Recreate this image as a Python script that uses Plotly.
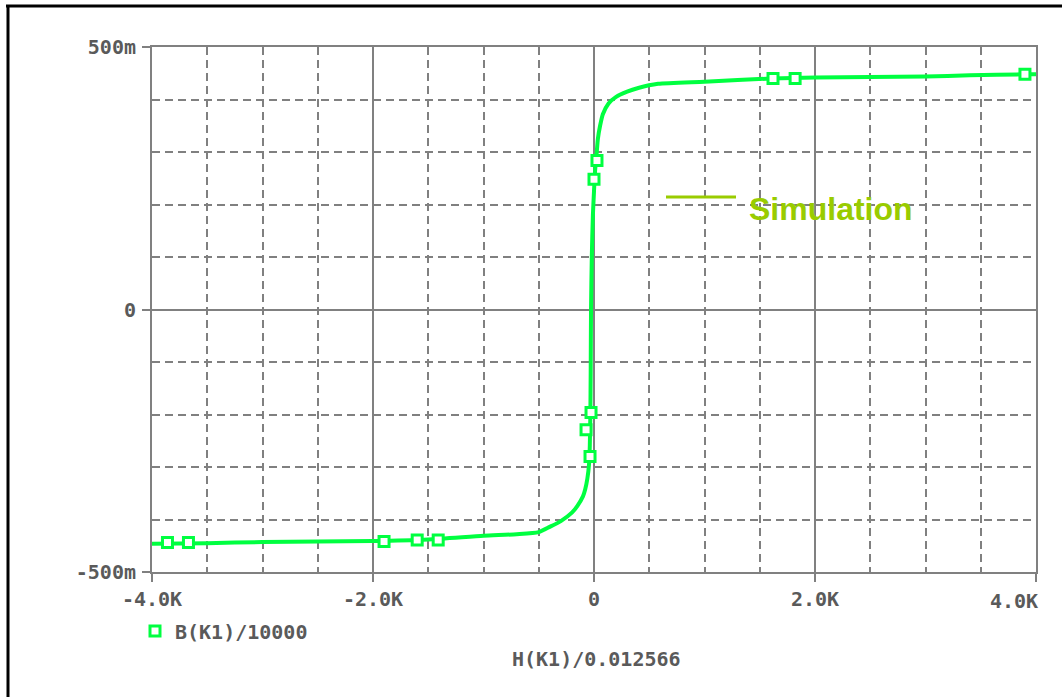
import plotly.graph_objects as go

# ---- data ----
H_curve = [-4000, -3500, -3000, -2500, -2000, -1500, -1000, -700, -500, -400,
           -300, -200, -150, -100, -80, -60, -45, -38, -33, -30, -27, -20, -10,
           0, 10, 25, 35, 55, 80, 130, 200, 300, 400, 580, 1000, 1600, 2000, 2500,
           3000, 3400, 3900, 4000]
B_curve = [-0.446, -0.445, -0.443, -0.442, -0.441, -0.438, -0.431, -0.428, -0.424, -0.414,
           -0.403, -0.387, -0.374, -0.356, -0.343, -0.322, -0.295, -0.26, -0.20, -0.12, 0.0, 0.10, 0.18,
           0.225, 0.265, 0.30, 0.325, 0.350, 0.372, 0.392, 0.405, 0.415, 0.422, 0.430, 0.434, 0.440, 0.442, 0.443,
           0.444, 0.446, 0.448, 0.448]

H_marks = [-3860, -3670, -1900, -1600, -1410, -72, -36, -27, 0, 27, 1620, 1820, 3900]
B_marks = [-0.444, -0.444, -0.442, -0.439, -0.439, -0.229, -0.280, -0.196, 0.248, 0.284, 0.440, 0.440, 0.448]

x_ticks = [-4000, -2000, 0, 2000, 4000]
x_labels = ["-4.0K", "-2.0K", "0", "2.0K", "4.0K"]
y_ticks = [-0.5, 0, 0.5]
y_labels = ["-500m", "0", "500m"]

series_name = "B(K1)/10000"
x_title = "H(K1)/0.012566"
note_text = "Simulation"

GREEN = "#00ff40"
GRID = "#808080"
TXT = "#5a5a5a"
NOTE = "#99cc00"
MONO = "DejaVu Sans Mono"

W, H = 1062, 697
L, R, T, B = 152, 26, 47, 125
PW, PH = W - L - R, H - T - B


def px(xp):
    return (xp - L) / PW


def py(yp):
    return (H - B - yp) / PH


fig = go.Figure()
fig.add_trace(go.Scatter(x=H_curve, y=B_curve, mode="lines",
                         line=dict(color=GREEN, width=4, shape="spline", smoothing=0.6),
                         showlegend=False, hoverinfo="skip"))
fig.add_trace(go.Scatter(x=H_marks, y=B_marks, mode="markers", name=series_name,
                         marker=dict(symbol="square", size=10, color="white",
                                     line=dict(color=GREEN, width=3))))

tick_font = dict(family=MONO, size=20, color=TXT, weight="bold")

axis_common = dict(
    showline=True, mirror=True, linecolor=GRID, linewidth=2,
    showgrid=True, gridcolor=GRID, gridwidth=2,
    ticks="outside", ticklen=8, tickwidth=2, tickcolor=GRID,
    tickfont=tick_font,
    zeroline=False, automargin=False,
)

# last x label is right-aligned to its tick (drawn as annotation below)
x_text_axis = x_labels[:-1] + [""]

fig.update_xaxes(range=[-4000, 4000], tickvals=x_ticks, ticktext=x_text_axis,
                 ticklabelstandoff=0,
                 minor=dict(dtick=500, showgrid=True, gridcolor=GRID, gridwidth=1.5,
                            griddash="8px,5px", ticks=""),
                 **axis_common)
fig.update_yaxes(range=[-0.5, 0.5], tickvals=y_ticks, ticktext=y_labels,
                 ticklabelstandoff=2,
                 minor=dict(dtick=0.1, showgrid=True, gridcolor=GRID, gridwidth=1.5,
                            griddash="8px,5px", ticks=""),
                 **axis_common)

shapes = [
    # outer frame (top and left edges visible)
    dict(type="line", xref="paper", yref="paper", x0=px(6), x1=px(1070),
         y0=py(6), y1=py(6), line=dict(color="black", width=3)),
    dict(type="line", xref="paper", yref="paper", x0=px(8), x1=px(8),
         y0=py(6), y1=py(705), line=dict(color="black", width=3)),
    # note line
    dict(type="line", xref="paper", yref="paper", x0=px(666), x1=px(736),
         y0=py(197), y1=py(197), line=dict(color=NOTE, width=3)),
]

annotations = [
    dict(text=note_text, xref="paper", yref="paper", x=px(747), y=py(209),
         xanchor="left", yanchor="middle", showarrow=False,
         font=dict(family="Liberation Sans", size=32, color=NOTE, weight="bold")),
    dict(text=x_title, xref="paper", yref="paper", x=px(596), y=py(659),
         xanchor="center", yanchor="middle", showarrow=False,
         font=dict(family=MONO, size=20, color=TXT, weight="bold")),
    dict(text=x_labels[-1], xref="x", yref="paper", x=x_ticks[-1], y=py(601),
         xanchor="right", yanchor="middle", showarrow=False, xshift=4,
         font=tick_font),
]

fig.update_layout(
    width=W, height=H, autosize=False,
    margin=dict(l=L, r=R, t=T, b=B, autoexpand=False),
    paper_bgcolor="white", plot_bgcolor="white",
    showlegend=True,
    legend=dict(x=px(135), y=py(631), xanchor="left", yanchor="middle",
                bgcolor="rgba(0,0,0,0)", itemwidth=30,
                font=dict(family=MONO, size=20, color=TXT, weight="bold")),
    shapes=shapes, annotations=annotations,
)

fig.write_html("out.html",
               config={"responsive": False, "displayModeBar": False},
               post_script="document.body.style.margin='0';document.body.style.overflow='hidden';")
